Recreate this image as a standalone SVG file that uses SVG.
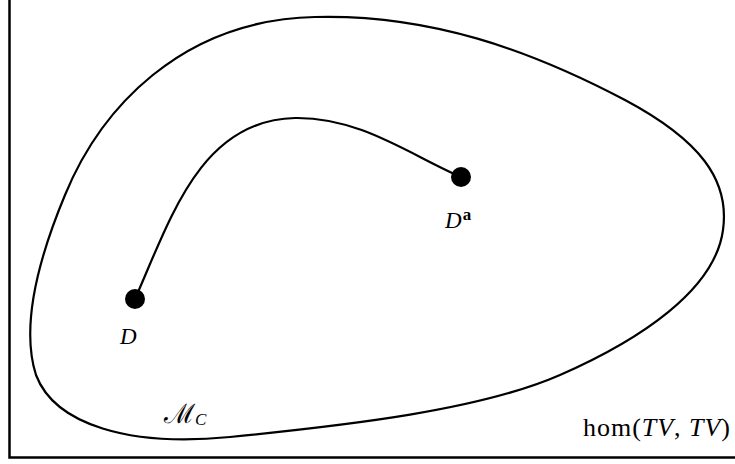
<svg xmlns="http://www.w3.org/2000/svg" width="735" height="464" viewBox="0 0 735 464">
<style>
.ln{fill:none;stroke:#000;stroke-width:2.2;stroke-linecap:round;stroke-linejoin:round}
.fr{fill:none;stroke:#000;stroke-width:2.5}
.t{font-family:"Liberation Serif","DejaVu Serif",serif;fill:#000}
.it{font-style:italic}
.dot{fill:#000}
</style>
<rect width="735" height="464" fill="#fff"/>
<g id="frame">
<path class="fr" d="M 9.5 0 L 9.5 457.5 L 735 457.5"/>
<text class="t" x="583" y="436" font-size="26" textLength="147" lengthAdjust="spacing">hom(<tspan class="it">TV</tspan>, <tspan class="it">TV</tspan>)</text>
</g>
<g id="manifold">
<path class="ln" d="M 315 17 C 430 14 530 50 625 100 C 700 140 730 180 723 230 C 715 290 640 340 560 375 C 480 410 350 425 230 437 C 130 447 55 425 36 375 C 20 325 40 255 65 195 C 100 110 180 20 315 17 Z"/>
<text class="t" x="164" y="423" font-size="27">ℳ<tspan font-size="17" dy="2" font-style="italic">C</tspan></text>
</g>
<g id="connectors">
<path class="ln" d="M 135 299 C 170 220 200 120 295 118 C 360 117 410 155 461 177"/>
</g>
<g id="nodeD">
<circle class="dot" cx="135" cy="299" r="10"/>
<text class="t it" x="120" y="344" font-size="23">D</text>
</g>
<g id="nodeDa">
<circle class="dot" cx="461" cy="177" r="10"/>
<text class="t" x="445" y="228" font-size="23"><tspan class="it">D</tspan><tspan font-size="17" font-weight="bold" dy="-8" dx="1">a</tspan></text>
</g>
</svg>
